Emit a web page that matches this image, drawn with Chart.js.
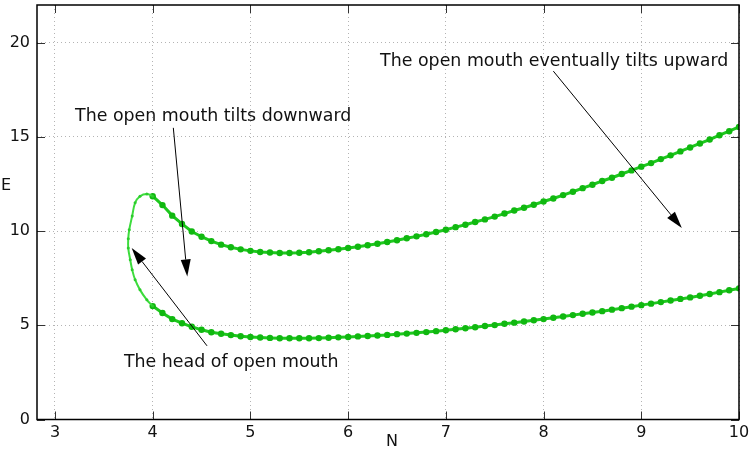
<!DOCTYPE html>
<html>
<head>
<meta charset="utf-8">
<script src="https://cdn.jsdelivr.net/npm/chart.js@4/dist/chart.umd.min.js"></script>
<style>
    html, body { margin: 0; padding: 0; background: #fff; }
    #wrap { width: 750px; height: 450px; }
</style>
</head>
<body>
<div id="wrap"><canvas id="chart" width="750" height="450"></canvas></div>
<script>
// Upper branch of the curve (N step 0.1)
const upperN = [4.0, 4.1, 4.2, 4.3, 4.4, 4.5, 4.6, 4.7, 4.8, 4.9,
    5.0, 5.1, 5.2, 5.3, 5.4, 5.5, 5.6, 5.7, 5.8, 5.9,
    6.0, 6.1, 6.2, 6.3, 6.4, 6.5, 6.6, 6.7, 6.8, 6.9,
    7.0, 7.1, 7.2, 7.3, 7.4, 7.5, 7.6, 7.7, 7.8, 7.9,
    8.0, 8.1, 8.2, 8.3, 8.4, 8.5, 8.6, 8.7, 8.8, 8.9,
    9.0, 9.1, 9.2, 9.3, 9.4, 9.5, 9.6, 9.7, 9.8, 9.9, 10.0];
const upperE = [11.85, 11.38, 10.82, 10.38, 9.98, 9.70, 9.47, 9.28, 9.14, 9.03,
    8.95, 8.89, 8.86, 8.84, 8.84, 8.85, 8.88, 8.93, 8.98, 9.04,
    9.10, 9.17, 9.25, 9.33, 9.42, 9.51, 9.62, 9.72, 9.83, 9.95,
    10.07, 10.21, 10.34, 10.48, 10.62, 10.77, 10.93, 11.09, 11.24, 11.40,
    11.57, 11.73, 11.91, 12.09, 12.28, 12.46, 12.66, 12.83, 13.03, 13.22,
    13.42, 13.61, 13.82, 14.02, 14.23, 14.44, 14.65, 14.86, 15.09, 15.30, 15.53];

// Lower branch
const lowerN = upperN.slice();
const lowerE = [6.02, 5.65, 5.33, 5.11, 4.92, 4.76, 4.63, 4.55, 4.48, 4.42,
    4.38, 4.35, 4.33, 4.31, 4.31, 4.31, 4.31, 4.32, 4.34, 4.36,
    4.38, 4.41, 4.43, 4.46, 4.49, 4.53, 4.56, 4.60, 4.64, 4.69,
    4.74, 4.79, 4.84, 4.90, 4.96, 5.01, 5.08, 5.14, 5.20, 5.27,
    5.33, 5.40, 5.47, 5.54, 5.61, 5.68, 5.75, 5.83, 5.91, 5.99,
    6.07, 6.15, 6.23, 6.32, 6.40, 6.48, 6.57, 6.66, 6.76, 6.86, 6.96];

// The head joining both branches
const headN = [4.0, 3.94, 3.87, 3.82, 3.79, 3.76, 3.75, 3.75, 3.77, 3.79, 3.82, 3.87, 3.94, 4.0];
const headE = [11.85, 11.97, 11.85, 11.5, 10.8, 10.07, 9.6, 9.1, 8.48, 7.95, 7.42, 6.88, 6.35, 6.02];

const xTicks = [3, 4, 5, 6, 7, 8, 9, 10];
const yTicks = [0, 5, 10, 15, 20];

// Annotations: text [N, E] and arrows [tailN, tailE, tipN, tipE]
const labelTexts = ['The open mouth tilts downward', 'The open mouth eventually tilts upward', 'The head of open mouth'];
const labelPos = [[3.205, 16.10], [6.327, 19.02], [3.706, 3.00]];
const arrows = [
    [4.211, 15.48, 4.354, 7.59],
    [8.100, 18.49, 9.415, 10.16],
    [4.556, 3.91, 3.785, 9.10]
];

const FONT = '"DejaVu Sans", Verdana, sans-serif';

function toPoints(xs, ys) {
    return xs.map((x, i) => ({ x: x, y: ys[i] }));
}

// Frame, inward ticks, axis titles and annotations
const decorPlugin = {
    id: 'decor',
    afterDraw(chart) {
        const ctx = chart.ctx;
        const a = chart.chartArea;
        const xs = chart.scales.x;
        const ys = chart.scales.y;
        ctx.save();

        // inward tick marks on all four sides
        ctx.strokeStyle = '#333';
        ctx.lineWidth = 1;
        ctx.beginPath();
        xTicks.forEach(v => {
            const px = Math.round(xs.getPixelForValue(v)) + 0.5;
            ctx.moveTo(px, a.bottom); ctx.lineTo(px, a.bottom - 8);
            ctx.moveTo(px, a.top); ctx.lineTo(px, a.top + 8);
        });
        yTicks.forEach(v => {
            const py = Math.round(ys.getPixelForValue(v)) + 0.5;
            ctx.moveTo(a.left, py); ctx.lineTo(a.left + 8, py);
            ctx.moveTo(a.right, py); ctx.lineTo(a.right - 8, py);
        });
        ctx.stroke();

        // frame
        ctx.strokeStyle = '#000';
        ctx.lineWidth = 1.5;
        ctx.strokeRect(a.left, a.top, a.right - a.left, a.bottom - a.top);

        // axis titles
        ctx.fillStyle = '#111';
        ctx.font = '16px ' + FONT;
        ctx.textAlign = 'center';
        ctx.textBaseline = 'middle';
        ctx.fillText('E', 6, 186);
        ctx.fillText('N', 392, 442);

        // annotation texts
        ctx.font = '17.4px ' + FONT;
        ctx.textAlign = 'left';
        labelTexts.forEach((t, i) => {
            ctx.fillText(t, xs.getPixelForValue(labelPos[i][0]), ys.getPixelForValue(labelPos[i][1]));
        });

        // arrows
        ctx.strokeStyle = '#000';
        ctx.fillStyle = '#000';
        ctx.lineWidth = 1;
        arrows.forEach(ar => {
            const x0 = xs.getPixelForValue(ar[0]), y0 = ys.getPixelForValue(ar[1]);
            const x1 = xs.getPixelForValue(ar[2]), y1 = ys.getPixelForValue(ar[3]);
            const ang = Math.atan2(y1 - y0, x1 - x0);
            const len = 17, half = 5;
            const bx = x1 - len * Math.cos(ang), by = y1 - len * Math.sin(ang);
            ctx.beginPath();
            ctx.moveTo(x0, y0);
            ctx.lineTo(bx, by);
            ctx.stroke();
            ctx.beginPath();
            ctx.moveTo(x1, y1);
            ctx.lineTo(bx + half * Math.sin(ang), by - half * Math.cos(ang));
            ctx.lineTo(bx - half * Math.sin(ang), by + half * Math.cos(ang));
            ctx.closePath();
            ctx.fill();
        });
        ctx.restore();
    }
};

new Chart(document.getElementById('chart').getContext('2d'), {
    type: 'scatter',
    data: {
        datasets: [
            {
                label: 'head',
                data: toPoints(headN, headE),
                showLine: true,
                tension: 0.4,
                borderColor: '#3ddc3d',
                borderWidth: 2,
                backgroundColor: '#2ccc2c',
                pointRadius: 1.5,
                pointBorderWidth: 0
            },
            {
                label: 'upper',
                data: toPoints(upperN, upperE),
                showLine: true,
                borderColor: '#1ec81e',
                borderWidth: 3,
                backgroundColor: '#10b810',
                pointRadius: 3.2,
                pointBorderWidth: 0
            },
            {
                label: 'lower',
                data: toPoints(lowerN, lowerE),
                showLine: true,
                borderColor: '#1ec81e',
                borderWidth: 3,
                backgroundColor: '#10b810',
                pointRadius: 3.2,
                pointBorderWidth: 0
            }
        ]
    },
    options: {
        responsive: false,
        animation: false,
        events: [],
        layout: { autoPadding: false, padding: { top: 5, right: 11, left: 0, bottom: 0 } },
        plugins: {
            legend: { display: false },
            tooltip: { enabled: false }
        },
        scales: {
            x: {
                type: 'linear',
                min: 2.816,
                max: 10,
                afterFit: s => { s.height = 30.5; s.paddingLeft = 0; s.paddingRight = 0; },
                afterBuildTicks: s => { s.ticks = xTicks.map(v => ({ value: v })); },
                ticks: { color: '#111', padding: 4, font: { family: FONT, size: 16 } },
                grid: { color: '#b4b4b4', drawTicks: false, lineWidth: 1 },
                border: { display: false, dash: [1, 3] }
            },
            y: {
                type: 'linear',
                min: 0,
                max: 22,
                afterFit: s => { s.width = 37; s.paddingTop = 0; s.paddingBottom = 0; },
                afterBuildTicks: s => { s.ticks = yTicks.map(v => ({ value: v })); },
                ticks: { color: '#111', padding: 7, font: { family: FONT, size: 16 } },
                grid: { color: '#b4b4b4', drawTicks: false, lineWidth: 1 },
                border: { display: false, dash: [1, 3] }
            }
        }
    },
    plugins: [decorPlugin]
});
</script>
</body>
</html>
